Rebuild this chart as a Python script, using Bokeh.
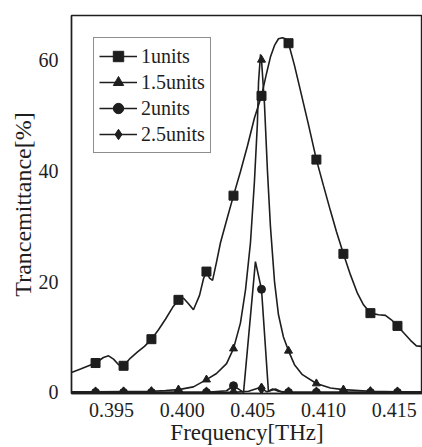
from bokeh.plotting import figure
from bokeh.models import Range1d, FixedTicker, Legend, LegendItem
from bokeh.embed import file_html
from bokeh.resources import INLINE

# ---- data ----
# 1 units (squares)
f1 = [0.39218, 0.39282, 0.39388, 0.39444, 0.39480, 0.39515, 0.39551, 0.39586, 0.39635, 0.39685,
      0.39734, 0.39783, 0.39833, 0.39882, 0.39932, 0.39974, 0.40010, 0.40045, 0.40080, 0.40123,
      0.40151, 0.40172, 0.40194, 0.40215, 0.40243, 0.40271, 0.40314, 0.40363, 0.40412, 0.40462,
      0.40511, 0.40561, 0.40596, 0.40624, 0.40653, 0.40681, 0.40709, 0.40730, 0.40752, 0.40794,
      0.40836, 0.40893, 0.40949, 0.40999, 0.41048, 0.41091, 0.41140, 0.41190, 0.41239, 0.41282,
      0.41331, 0.41388, 0.41437, 0.41479, 0.41522, 0.41564, 0.41614, 0.41656, 0.41692]
v1 = [3.6, 4.2, 5.3, 6.3, 6.6, 6.0, 5.0, 4.8, 6.2, 7.3,
      8.3, 9.6, 11.3, 13.2, 15.3, 16.7, 17.0, 16.0, 14.9, 17.5,
      20.5, 21.8, 20.6, 20.2, 23.5, 27.0, 31.0, 35.5, 39.8, 44.5,
      49.5, 53.5, 57.5, 60.5, 62.6, 63.8, 64.0, 63.8, 63.0, 59.0,
      54.5, 48.3, 42.0, 37.3, 32.8, 29.0, 25.0, 21.2, 17.9, 15.8,
      14.3, 14.0, 13.9, 13.1, 12.0, 10.8, 9.4, 8.4, 8.3]

# 1.5 units (triangles)
f15 = [0.39218, 0.39388, 0.39586, 0.39783, 0.39882, 0.39974, 0.40080, 0.40172, 0.40243, 0.40314,
       0.40363, 0.40412, 0.40448, 0.40483, 0.40511, 0.40532, 0.40540, 0.40554, 0.40561, 0.40582,
       0.40603, 0.40624, 0.40653, 0.40681, 0.40716, 0.40752, 0.40794, 0.40850, 0.40949, 0.41048,
       0.41140, 0.41331, 0.41522, 0.41692]
v15 = [0.1, 0.1, 0.15, 0.2, 0.35, 0.5, 1.0, 2.3, 3.4, 5.2,
       7.9, 12.5, 18.5, 27.0, 38.0, 48.5, 56.0, 61.0, 60.0, 52.0,
       40.0, 30.0, 20.0, 14.0, 10.0, 7.5, 5.0, 3.2, 1.6, 0.8,
       0.5, 0.2, 0.1, 0.1]

# 2 units (circles)
f2 = [0.39218, 0.39388, 0.39586, 0.39783, 0.39974, 0.40172, 0.40314, 0.40363, 0.40405, 0.40434,
      0.40518, 0.40561, 0.40610, 0.40640, 0.40680, 0.40752, 0.40949, 0.41140, 0.41331, 0.41522,
      0.41692]
v2 = [0.0, 0.0, 0.0, 0.0, 0.0, 0.0, 0.3, 1.2, 0.5, 0.0,
      23.6, 18.6, 0.2, 0.6, 0.2, 0.0, 0.0, 0.0, 0.0, 0.0,
      0.0]

# 2.5 units (diamonds)
f25 = [0.39218, 0.39388, 0.39586, 0.39783, 0.39974, 0.40172, 0.40363, 0.40470, 0.40540, 0.40561,
       0.40600, 0.40660, 0.40700, 0.40752, 0.40949, 0.41140, 0.41331, 0.41522, 0.41692]
v25 = [0.0, 0.0, 0.0, 0.0, 0.0, 0.0, 0.0, 0.2, 0.8, 0.7,
       0.1, 0.6, 0.1, 0.0, 0.0, 0.0, 0.0, 0.0, 0.0]

# marker frequencies (shared by all series)
fm = [0.39388, 0.39586, 0.39783, 0.39974, 0.40172, 0.40363,
      0.40561, 0.40752, 0.40949, 0.41140, 0.41331, 0.41522]

labels = ["1units", "1.5units", "2units", "2.5units"]
x_ticks = [0.395, 0.400, 0.405, 0.410, 0.415]
x_tick_labels = ["0.395", "0.400", "0.405", "0.410", "0.415"]
y_ticks = [0, 20, 40, 60]

# ---- figure ----
FONT = "Liberation Serif"
INK = "#1e1e1e"

p = figure(width=422, height=447, output_backend="svg", toolbar_location=None,
           x_range=Range1d(0.39218, 0.41699), y_range=Range1d(-0.2, 68.0),
           min_border_left=71, min_border_right=0, min_border_top=15, min_border_bottom=52)
p.background_fill_color = "white"
p.border_fill_color = "white"
p.outline_line_color = INK
p.outline_line_width = 1.4
p.grid.visible = False

for ax in (p.xaxis[0], p.yaxis[0]):
    ax.axis_line_color = INK
    ax.axis_line_width = 1.4
    ax.major_tick_line_color = None
    ax.minor_tick_line_color = None
    ax.major_label_text_font = FONT
    ax.major_label_text_font_size = "20px"
    ax.major_label_text_color = INK
    ax.axis_label_text_font = FONT
    ax.axis_label_text_font_style = "normal"
    ax.axis_label_text_color = INK

p.xaxis.ticker = FixedTicker(ticks=x_ticks)
p.xaxis.major_label_overrides = {t: s for t, s in zip(x_ticks, x_tick_labels)}
p.xaxis.major_label_standoff = 3
p.xaxis.axis_label = "Frequency[THz]"
p.xaxis.axis_label_text_font_size = "23px"
p.xaxis.axis_label_standoff = 0

p.yaxis.ticker = FixedTicker(ticks=y_ticks)
p.yaxis.major_label_standoff = 7
p.yaxis.axis_label = "Trancemittance[%]"
p.yaxis.axis_label_text_font_size = "24px"
p.yaxis.axis_label_standoff = 0

series = [
    (f1, v1, "square", 9),
    (f15, v15, "triangle", 8),
    (f2, v2, "circle", 8),
    (f25, v25, "diamond", 11),
]

items = []
for (fs, vs, mk, sz), lab in zip(series, labels):
    ln = p.line(fs, vs, line_color=INK, line_width=1.6)
    lookup = dict(zip(fs, vs))
    mv = [lookup[f] for f in fm]
    sc = p.scatter(fm, mv, marker=mk, size=sz, fill_color=INK, line_color=INK)
    items.append(LegendItem(label=lab, renderers=[ln, sc]))

legend = Legend(items=items, location="top_left")
legend.margin = 22
legend.padding = 5
legend.spacing = 0
legend.glyph_width = 38
legend.glyph_height = 26
legend.label_height = 26
legend.label_standoff = 4
legend.label_text_font = FONT
legend.label_text_font_size = "20px"
legend.label_text_color = INK
legend.border_line_color = INK
legend.border_line_width = 1
legend.background_fill_color = "white"
legend.background_fill_alpha = 1.0
p.add_layout(legend, "center")

open("out.html", "w").write(file_html(p, INLINE))
